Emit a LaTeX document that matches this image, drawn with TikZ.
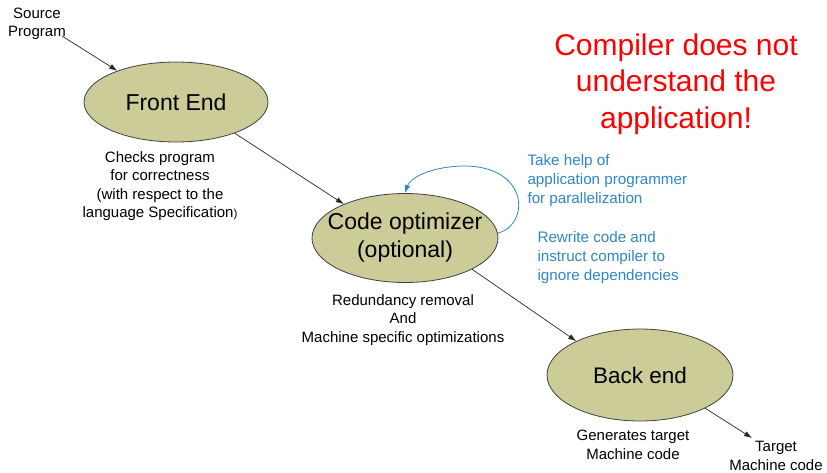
\documentclass[tikz,border=0pt]{standalone}
\usepackage{fontspec}
\setmainfont{Liberation Sans}
\usetikzlibrary{shapes.geometric,arrows.meta}
\definecolor{olivefill}{RGB}{204,204,153}
\definecolor{bluetxt}{RGB}{46,134,200}
\definecolor{redtxt}{RGB}{255,0,0}
\newcommand{\fsz}[2]{\fontsize{#1}{#2}\selectfont}
\begin{document}
\begin{tikzpicture}[x=1pt,y=-1pt,
  stage/.style={ellipse,draw=black!75,line width=0.8pt,fill=olivefill,inner sep=0pt},
  note/.style={align=center,font=\fsz{15}{18.5}},
  bnote/.style={align=left,font=\fsz{15.2}{19},text=bluetxt},
  flow/.style={-{Latex[length=8pt,width=5.5pt]},line width=0.7pt,black!85},
]
\useasboundingbox (0,0) rectangle (827,472);
\node[stage,minimum width=184pt,minimum height=80pt] (fe) at (176,102) {};
\node[font=\fsz{23}{26}] (fet) at (fe) {Front End};
\node[stage,minimum width=186pt,minimum height=89pt] (co) at (405,238) {};
\node[align=center,font=\fsz{23}{28}] (cot) at (co) {Code optimizer\\(optional)};
\node[stage,minimum width=186pt,minimum height=92pt] (be) at (640,375) {};
\node[font=\fsz{22.5}{26}] (bet) at (be) {Back end};

\node[note] (src) at (37,24) {Source\\Program};
\node[note] (fen) at (160,186) {Checks program\\for correctness\\(with respect to the\\language Specification\fsz{11.5}{18.5})};
\node[note] (con) at (403,320) {Redundancy removal\\And\\Machine specific optimizations};
\node[note] (ben) at (633,445) {Generates target\\Machine code};
\node[note] (tgt) at (776,456) {Target\\Machine code};

\node[bnote,anchor=north west] (help) at (524,151) {Take help of\\application programmer\\for parallelization};
\node[bnote,anchor=north west] (rew) at (534,228) {Rewrite code and\\instruct compiler to\\ignore dependencies};

\node[align=center,font=\fsz{30}{36.5},text=redtxt] (red) at (676,84) {Compiler does not\\understand the\\application!};

\coordinate (srcend) at (62,36);
\coordinate (tgtend) at (752,438);
\draw[flow] (srcend) -- (fe.152);
\draw[flow] (fe.-28) -- (co.151);
\draw[flow] (co.-25) -- (be.152);
\draw[flow] (be.-27) -- (tgtend);
\draw[-{Latex[length=8pt,width=5.5pt]},line width=0.8pt,bluetxt]
  (co.3) .. controls (530,225) and (530,165) .. (462,166)
  .. controls (430,167) and (410,178) .. (co.90);
\end{tikzpicture}
\end{document}
